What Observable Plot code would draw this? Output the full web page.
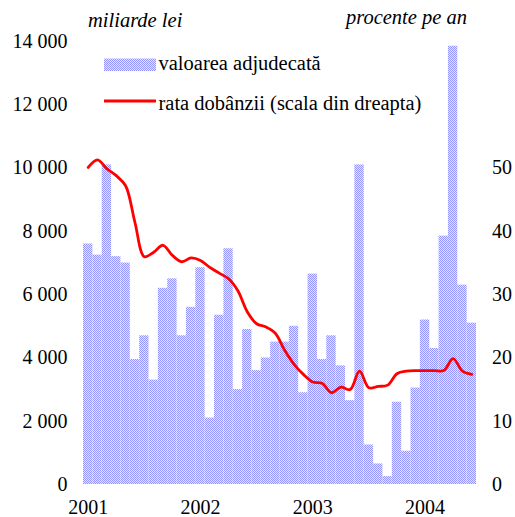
<!DOCTYPE html>
<html>
<head>
<meta charset="utf-8">
<script src="https://cdn.jsdelivr.net/npm/d3@7"></script>
<script src="https://cdn.jsdelivr.net/npm/@observablehq/plot@0.6"></script>
<style>
  html, body { margin: 0; padding: 0; background: #fff; }
</style>
</head>
<body>
<div id="chart"></div>
<script>
// ---- data (monthly, Jan 2001 – Jun 2004) ----
const startMonth = "2001-01";
const valoare = [7600, 7250, 10100, 7200, 7000, 3950, 4700, 3300, 6200, 6500, 4700, 5600,
                 6850, 2100, 5350, 7450, 3000, 4900, 3600, 4000, 4500, 4500, 5000, 2900,
                 6650, 3950, 4700, 3750, 2650, 10100, 1250, 650, 250, 2600, 1050, 3050,
                 5200, 4300, 7850, 13850, 6300, 5100];
const rata = [50.1, 51.3, 49.9, 48.8, 47.2, 41.4, 36.0, 36.7, 37.8, 36.2, 35.2, 35.8,
              35.4, 34.3, 33.4, 32.5, 30.6, 27.3, 25.4, 24.9, 23.9, 21.2, 19.0, 17.4,
              16.2, 16.0, 14.5, 15.4, 15.0, 17.9, 15.3, 15.5, 15.7, 17.5, 17.9, 18.0,
              18.0, 18.0, 18.0, 19.9, 17.9, 17.4];
const leftTicks = [0, 2000, 4000, 6000, 8000, 10000, 12000, 14000];
const rightTicks = [0, 10, 20, 30, 40, 50];
const leftTitle = "miliarde lei";
const rightTitle = "procente pe an";
const legendLabels = ["valoarea adjudecată", "rata dobânzii (scala din dreapta)"];
const RATIO = 200; // 70 % on the right <-> 14 000 on the left

// ---- build table ----
const t0 = new Date(startMonth + "-01T00:00:00Z");
const data = valoare.map((v, i) => ({
  i,
  date: d3.utcMonth.offset(t0, i),
  valoare: v,
  rata: rata[i]
}));
const janIdx = data.filter(d => d.date.getUTCMonth() === 0).map(d => d.i + 0.5);

const FONT = "'Liberation Serif', 'Times New Roman', serif";
const fmt = d3.formatLocale({thousands: " ", grouping: [3], decimal: ","}).format(",");

const defs = () => {
  const s = d3.create("svg:defs");
  const p = s.append("pattern").attr("id", "barpat").attr("patternUnits", "userSpaceOnUse")
    .attr("width", 2).attr("height", 2);
  p.append("rect").attr("width", 2).attr("height", 2).attr("fill", "#e6e6ff");
  p.append("rect").attr("x", 0).attr("y", 0).attr("width", 1).attr("height", 1).attr("fill", "#9393ff");
  p.append("rect").attr("x", 1).attr("y", 1).attr("width", 1).attr("height", 1).attr("fill", "#9393ff");
  return s.node();
};

const overlay = () => {
  const g = d3.create("svg:g").attr("font-size", 20.5).attr("fill", "#000").attr("text-anchor", "start");
  g.append("text").attr("x", 88).attr("y", 27).attr("font-style", "italic").text(leftTitle);
  g.append("text").attr("x", 467).attr("y", 24).attr("text-anchor", "end").attr("font-style", "italic").text(rightTitle);
  g.append("rect").attr("x", 104).attr("y", 58.5).attr("width", 52).attr("height", 12.5).attr("fill", "url(#barpat)");
  g.append("text").attr("x", 158.5).attr("y", 69.5).text(legendLabels[0]);
  g.append("line").attr("x1", 104).attr("x2", 156).attr("y1", 101).attr("y2", 101)
    .attr("stroke", "#ff0000").attr("stroke-width", 3);
  g.append("text").attr("x", 158.5).attr("y", 110).text(legendLabels[1]);
  return g.node();
};

const chart = Plot.plot({
  width: 515,
  height: 517,
  marginLeft: 83,
  marginRight: 39,
  marginTop: 41,
  marginBottom: 33,
  style: `font-family: ${FONT}; font-size: 20px; color: #000; background: #fff; overflow: visible;`,
  x: {type: "linear", domain: [0, data.length], label: null},
  y: {domain: [0, 14000], label: null},
  marks: [
    defs,
    Plot.rectY(data, {x1: d => d.i, x2: d => d.i + 1, y1: 0, y2: "valoare", fill: "url(#barpat)"}),
    Plot.line(data, {x: d => d.i + 0.5, y: d => d.rata * RATIO, stroke: "#ff0000", strokeWidth: 2.8, curve: "catmull-rom"}),
    Plot.axisY({anchor: "left", ticks: leftTicks, tickFormat: fmt, tickSize: 0, tickPadding: 16, label: null}),
    Plot.axisY({anchor: "right", ticks: rightTicks.map(v => v * RATIO), tickFormat: d => String(d / RATIO), tickSize: 0, tickPadding: 15.5, label: null}),
    Plot.axisX({ticks: janIdx, tickFormat: x => String(data[Math.floor(x)].date.getUTCFullYear()), tickSize: 0, tickPadding: 15, label: null}),
    overlay
  ]
});
chart.setAttribute("font-family", FONT);
d3.select(chart).selectAll("text").attr("font-family", FONT);
document.getElementById("chart").append(chart);
</script>
</body>
</html>
